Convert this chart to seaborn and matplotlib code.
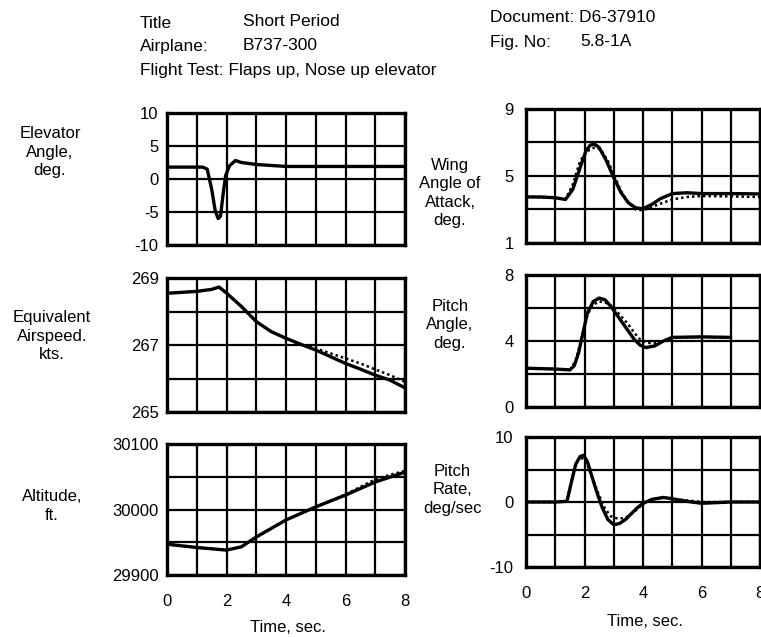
# Short Period - B737-300, comparación vuelo / simulación
import numpy as np
import pandas as pd
import matplotlib
matplotlib.use("Agg")
import matplotlib.pyplot as plt
import seaborn as sns

sns.set_style("white")
plt.rcParams['font.family'] = ['Liberation Sans', 'DejaVu Sans']
plt.rcParams['text.color'] = 'black'

# 1) Datos (t en s)
elev_t = [0, 1.2, 1.35, 1.5, 1.62, 1.72, 1.8, 1.88, 1.97, 2.1, 2.3, 2.5, 3.0, 4.0, 8.0]
elev_v = [1.8, 1.8, 1.5, -1.5, -4.8, -6.0, -5.6, -2.5, 0.5, 2.0, 2.8, 2.5, 2.2, 1.9, 1.9]

aoa_t = [0, 0.5, 1.0, 1.35, 1.6, 1.85, 2.05, 2.2, 2.35, 2.5, 2.75, 3.0, 3.25, 3.5,
         3.75, 4.0, 4.3, 4.6, 5.0, 5.5, 6.0, 7.0, 8.0]
aoa_v = [3.75, 3.75, 3.7, 3.6, 4.2, 5.5, 6.5, 6.85, 6.9, 6.7, 5.9, 4.9, 4.0, 3.4,
         3.1, 3.05, 3.3, 3.65, 3.95, 4.0, 3.95, 3.95, 3.93]
aoa_sim_t = [0, 1.0, 1.35, 1.6, 1.85, 2.1, 2.35, 2.55, 2.8, 3.0, 3.25, 3.5, 3.75,
             4.0, 4.3, 4.6, 5.0, 5.5, 6.0, 7.0, 8.0]
aoa_sim_v = [3.75, 3.7, 3.6, 4.5, 5.9, 6.5, 6.7, 6.6, 5.9, 5.1, 4.1, 3.4, 3.0,
             2.95, 3.15, 3.35, 3.6, 3.75, 3.8, 3.78, 3.75]

eas_t = [0.1, 1.0, 1.5, 1.75, 2.0, 2.5, 3.0, 3.5, 4.0, 4.5, 5.0, 5.5, 6.0, 6.5, 7.0, 7.5, 8.0]
eas_v = [268.55, 268.6, 268.66, 268.73, 268.55, 268.15, 267.7, 267.4, 267.2, 267.02,
         266.85, 266.65, 266.45, 266.28, 266.1, 265.95, 265.72]
eas_sim_t = [0.1, 1.0, 1.5, 1.75, 2.0, 2.5, 3.0, 3.5, 4.0, 4.5, 5.0, 5.5, 6.0, 6.5, 7.0, 7.5, 8.0]
eas_sim_v = [268.55, 268.6, 268.66, 268.73, 268.55, 268.15, 267.7, 267.4, 267.2, 267.02,
             266.9, 266.75, 266.6, 266.45, 266.27, 266.1, 265.9]

pitch_t = [0, 1.0, 1.5, 1.65, 1.8, 1.95, 2.1, 2.3, 2.5, 2.7, 2.9, 3.1, 3.3, 3.5, 3.7,
           3.9, 4.1, 4.4, 4.7, 5.0, 6.0, 7.0]
pitch_v = [2.35, 2.3, 2.25, 2.5, 3.3, 4.5, 5.7, 6.4, 6.6, 6.5, 6.1, 5.6, 5.1, 4.6, 4.1,
           3.75, 3.6, 3.7, 4.0, 4.22, 4.25, 4.22]
pitch_sim_t = [0, 1.0, 1.5, 1.7, 1.9, 2.1, 2.3, 2.5, 2.7, 2.9, 3.1, 3.3, 3.5, 3.7, 3.9,
               4.1, 4.4, 4.7, 5.0, 6.0, 7.0]
pitch_sim_v = [2.35, 2.3, 2.25, 2.8, 4.2, 5.6, 6.2, 6.4, 6.35, 6.15, 5.8, 5.4, 5.0, 4.5,
               4.1, 3.9, 3.85, 4.0, 4.2, 4.25, 4.2]

alt_t = [0, 1.0, 2.0, 2.5, 3.0, 4.0, 5.0, 6.0, 7.0, 8.0]
alt_v = [29947, 29942, 29938, 29943, 29958, 29984, 30004, 30022, 30042, 30057]
alt_sim_t = [0, 1.0, 2.0, 2.5, 3.0, 4.0, 5.0, 6.0, 7.0, 7.5, 8.0]
alt_sim_v = [29947, 29942, 29938, 29943, 29958, 29984, 30004, 30023, 30046, 30053, 30059]

q_t = [0, 1.0, 1.4, 1.55, 1.7, 1.85, 1.97, 2.1, 2.25, 2.4, 2.6, 2.8, 3.0, 3.2, 3.4, 3.6,
       3.8, 4.0, 4.3, 4.7, 5.0, 5.5, 6.0, 6.5, 7.0, 8.0]
q_v = [0, 0, 0.1, 3.0, 5.8, 7.0, 7.2, 6.2, 4.0, 1.8, -0.8, -2.7, -3.5, -3.3, -2.7, -1.8,
       -0.9, -0.2, 0.4, 0.7, 0.5, 0.1, -0.2, -0.1, 0, 0]
q_sim_t = [0, 1.0, 1.4, 1.55, 1.7, 1.85, 2.0, 2.15, 2.3, 2.5, 2.7, 2.9, 3.1, 3.3, 3.5, 3.7,
           3.9, 4.1, 4.4, 4.7, 5.0, 6.0, 8.0]
q_sim_v = [0, 0, 0.1, 3.3, 6.0, 6.8, 6.6, 5.2, 3.3, 1.0, -1.0, -2.2, -2.5, -2.5, -2.2, -1.5,
           -0.7, 0, 0.5, 0.7, 0.5, 0, 0]

# 2) Figura y ejes (posiciones en fracción de figura)
W, H = 761, 637
fig = plt.figure(figsize=(W / 100, H / 100), dpi=100)

def box(x0, x1, y0, y1):
    return [x0 / W, 1 - y1 / H, (x1 - x0) / W, (y1 - y0) / H]

ax_el = fig.add_axes(box(167, 405, 113, 245))
ax_eas = fig.add_axes(box(167, 405, 278, 412))
ax_alt = fig.add_axes(box(167, 405, 444, 575))
ax_aoa = fig.add_axes(box(526, 760, 109, 243))
ax_th = fig.add_axes(box(526, 760, 275, 407))
ax_q = fig.add_axes(box(526, 760, 437, 567))

def panel(ax, t, v, ts, vs, ylim, ystep, ylabels, bottom, pad):
    if ts is not None:
        sns.lineplot(x=ts, y=vs, ax=ax, color="black", lw=1.8, linestyle=(0, (1, 1.2)),
                     estimator=None, sort=False)
    sns.lineplot(x=t, y=v, ax=ax, color="black", lw=2.4, estimator=None, sort=False)
    ax.set_xlim(0, 8)
    ax.set_ylim(*ylim)
    ax.set_xticks(np.arange(0, 9, 1))
    yt = np.arange(ylim[0], ylim[1] + ystep / 2, ystep)
    ax.set_yticks(yt)
    ax.set_yticklabels([str(int(y)) if y in ylabels else "" for y in yt])
    if bottom:
        ax.set_xticklabels([str(x) if x % 2 == 0 else "" for x in range(9)])
    else:
        ax.set_xticklabels([])
    ax.grid(True, color="black", lw=1.6)
    for s in ax.spines.values():
        s.set_color("black")
        s.set_linewidth(2.4)
    ax.tick_params(axis="both", direction="in", length=2, width=1.5, labelsize=12,
                   colors="black")
    ax.tick_params(axis="y", pad=pad)
    ax.tick_params(axis="x", pad=14)
    ax.set_xlabel("")
    ax.set_ylabel("")

panel(ax_el, elev_t, elev_v, None, None, (-10, 10), 5, [-10, -5, 0, 5, 10], False, 6)
panel(ax_eas, eas_t, eas_v, eas_sim_t, eas_sim_v, (265, 269), 1, [265, 267, 269], False, 6)
panel(ax_alt, alt_t, alt_v, alt_sim_t, alt_sim_v, (29900, 30100), 50, [29900, 30000, 30100], True, 6)
panel(ax_aoa, aoa_t, aoa_v, aoa_sim_t, aoa_sim_v, (1, 9), 2, [1, 5, 9], False, 9)
panel(ax_th, pitch_t, pitch_v, pitch_sim_t, pitch_sim_v, (0, 8), 2, [0, 4, 8], False, 9)
panel(ax_q, q_t, q_v, q_sim_t, q_sim_v, (-10, 10), 5, [-10, 0, 10], True, 9)

# 3) Textos
def ftext(x, y, s, **kw):
    fig.text(x / W, 1 - y / H, s, color="black", **kw)

hdr = dict(fontsize=12.5, va="center", ha="left")
ftext(140, 24, "Title", **hdr)
ftext(243, 21, "Short Period", **hdr)
ftext(490, 17, "Document: D6-37910", **hdr)
ftext(140, 46, "Airplane:", **hdr)
ftext(243, 45, "B737-300", **hdr)
ftext(490, 43, "Fig. No:", **hdr)
ftext(580, 41, "5.8-1A", **hdr)
ftext(140, 70, "Flight Test: Flaps up, Nose up elevator", **hdr)

side = dict(fontsize=12, ha="center", va="center", linespacing=1.3, multialignment="center")
ftext(50, 152, "Elevator\nAngle,\ndeg.", **side)
ftext(52, 336, "Equivalent\nAirspeed.\nkts.", **side)
ftext(52, 506, "Altitude,\nft.", **side)
ftext(450, 193, "Wing\nAngle of\nAttack,\ndeg.", **side)
ftext(450, 325, "Pitch\nAngle,\ndeg.", **side)
ftext(452, 490, "Pitch\nRate,\ndeg/sec", **side)

ftext(288, 627, "Time, sec.", fontsize=12, ha="center", va="center")
ftext(645, 622, "Time, sec.", fontsize=12, ha="center", va="center")

fig.savefig("out.png", dpi=100)
